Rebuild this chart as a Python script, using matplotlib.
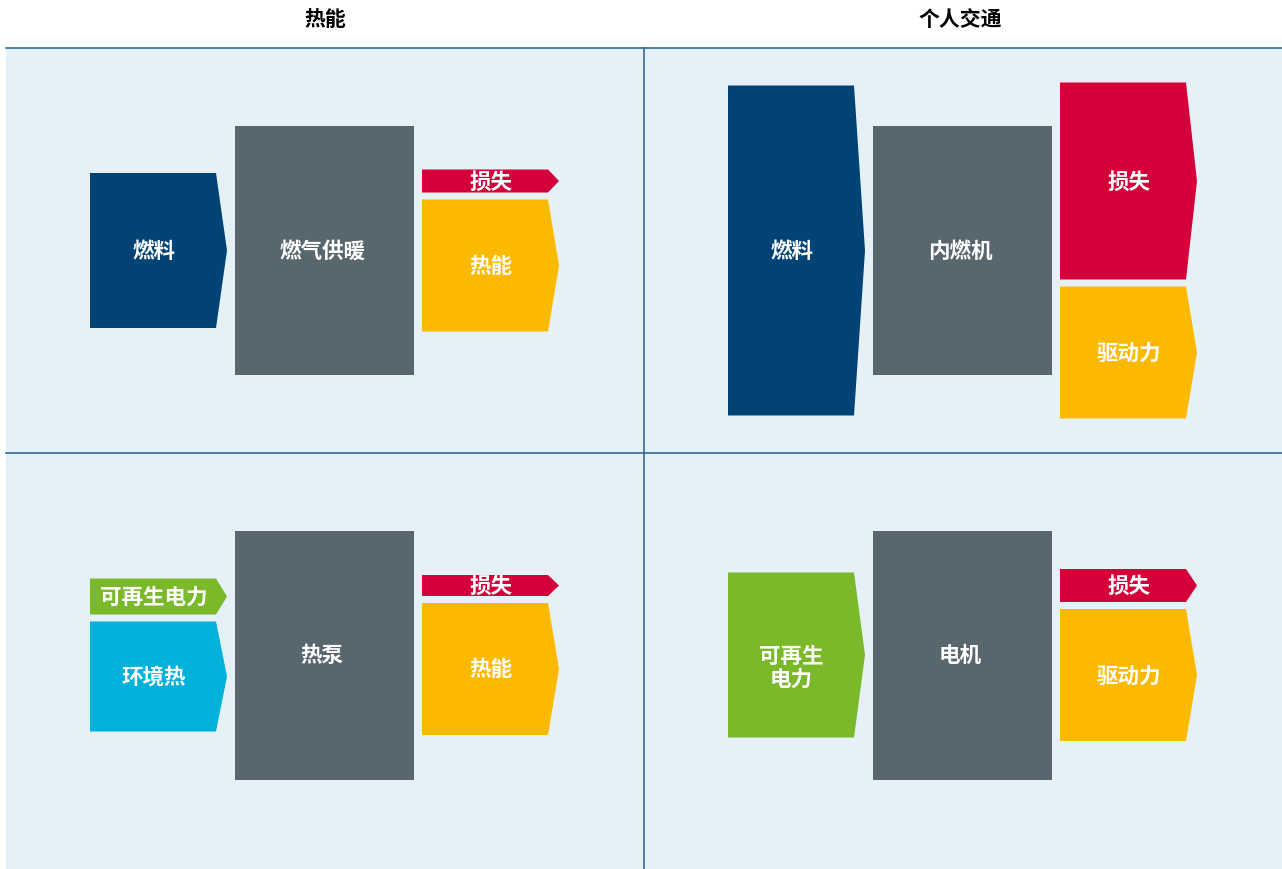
import matplotlib.pyplot as plt
from matplotlib.patches import Polygon, Rectangle

plt.rcParams['font.family'] = ['Noto Sans CJK SC', 'DejaVu Sans']

# column titles
titles = ['热能', '个人交通']

# energy flows per panel (heights in diagram units)
converter_val = 249

p1_converter = '燃气供暖'
p1_inputs = ['燃料']
p1_input_vals = [155]
p1_outputs = ['损失', '热能']
p1_output_vals = [23, 132]

p2_converter = '内燃机'
p2_inputs = ['燃料']
p2_input_vals = [330]
p2_outputs = ['损失', '驱动力']
p2_output_vals = [197, 132]

p3_converter = '热泵'
p3_inputs = ['可再生电力', '环境热']
p3_input_vals = [36, 110]
p3_outputs = ['损失', '热能']
p3_output_vals = [21, 132]

p4_converter = '电机'
p4_inputs = ['可再生\n电力']
p4_input_vals = [165]
p4_outputs = ['损失', '驱动力']
p4_output_vals = [33, 132]

# colours
BG = '#e5f0f7'
LINE = '#336a9a'
GRAY = '#58666e'
colors = {'燃料': '#004374', '损失': '#d4003a', '热能': '#fbba00',
          '驱动力': '#fbba00', '可再生电力': '#7ab929', '可再生\n电力': '#7ab929',
          '环境热': '#00b1da'}

W, H = 1282, 870
fig = plt.figure(figsize=(W / 100, H / 100), dpi=100)
ax = fig.add_axes([0, 0, 1, 1])
ax.set_xlim(0, W)
ax.set_ylim(H, 0)
ax.axis('off')

# background and grid lines
ax.add_patch(Rectangle((6, 48.5), W - 6, H - 48, facecolor=BG, edgecolor='none'))
ax.plot([6, W], [48.5, 48.5], color=LINE, lw=1.2)
ax.plot([6, W], [453.5, 453.5], color=LINE, lw=1.2)
ax.plot([644, 644], [48.5, H], color=LINE, lw=1.2)

for i, t in enumerate(titles):
    ax.text(325 + 635 * i, 20, t, ha='center', va='center',
            fontsize=15, fontweight='bold', color='black')

GAP = 7
BODY_W = 126
TIP = 11
FS = 15.5


def arrow(x0, top, bot, color):
    mid = (top + bot) / 2
    pts = [(x0, top), (x0 + BODY_W, top), (x0 + BODY_W + TIP, mid),
           (x0 + BODY_W, bot), (x0, bot)]
    ax.add_patch(Polygon(pts, closed=True, facecolor=color, edgecolor='none'))


def stack(x0, center, labels, vals, label_dx=0, label_dy=None):
    total = sum(vals) + GAP * (len(vals) - 1)
    y = center - total / 2
    for lab, v in zip(labels, vals):
        arrow(x0, y, y + v, colors[lab])
        dy = 0 if label_dy is None else label_dy.get(lab, 0)
        ax.text(x0 + (BODY_W + TIP) / 2 + label_dx, y + v / 2 + dy, lab,
                ha='center', va='center', color='white', fontsize=FS,
                fontweight='bold', linespacing=1.1)
        y += v + GAP


def panel(dx, center, conv, inputs, in_vals, outputs, out_vals, in_dy=None):
    stack(90 + dx, center, inputs, in_vals, label_dx=-5, label_dy=in_dy)
    ax.add_patch(Rectangle((235 + dx, center - converter_val / 2), 179, converter_val,
                           facecolor=GRAY, edgecolor='none'))
    ax.text(322 + dx, center, conv, ha='center', va='center', color='white',
            fontsize=FS, fontweight='bold')
    stack(422 + dx, center, outputs, out_vals)


panel(0, 251.5, p1_converter, p1_inputs, p1_input_vals, p1_outputs, p1_output_vals)
panel(638, 251.5, p2_converter, p2_inputs, p2_input_vals, p2_outputs, p2_output_vals)
panel(0, 656, p3_converter, p3_inputs, p3_input_vals, p3_outputs, p3_output_vals)
panel(638, 656, p4_converter, p4_inputs, p4_input_vals, p4_outputs, p4_output_vals,
      in_dy={'可再生\n电力': 12})

fig.savefig('out.png', dpi=100, facecolor='white')
